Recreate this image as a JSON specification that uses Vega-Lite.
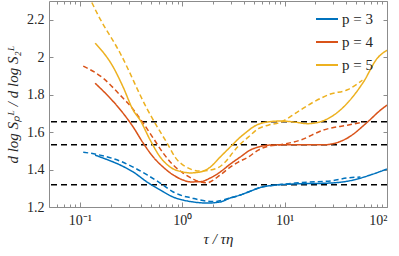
{
  "$schema": "https://vega.github.io/schema/vega-lite/v6.json",
  "width": 338,
  "height": 206,
  "autosize": "none",
  "padding": {"left": 49, "top": 1, "right": 12, "bottom": 49},
  "config": {
    "view": {"stroke": "#8c8c8c", "strokeWidth": 1},
    "font": "Liberation Serif, Times New Roman, serif",
    "axis": {"grid": false, "domain": false, "tickColor": "#8c8c8c", "labelColor": "#262626", "titleColor": "#262626", "labelFont": "Liberation Serif, Times New Roman, serif", "titleFont": "Liberation Serif, Times New Roman, serif", "labelFontSize": 14, "titleFontWeight": "normal"},
    "legend": {"labelFont": "Liberation Serif, Times New Roman, serif"}
  },
  "datasets": {
    "curves": [
      {"p": "p = 3", "k": "solid", "t": 0.141, "v": 1.477},
      {"p": "p = 3", "k": "solid", "t": 0.158, "v": 1.467},
      {"p": "p = 3", "k": "solid", "t": 0.248, "v": 1.424},
      {"p": "p = 3", "k": "solid", "t": 0.332, "v": 1.387},
      {"p": "p = 3", "k": "solid", "t": 0.455, "v": 1.333},
      {"p": "p = 3", "k": "solid", "t": 0.609, "v": 1.291},
      {"p": "p = 3", "k": "solid", "t": 0.817, "v": 1.253},
      {"p": "p = 3", "k": "solid", "t": 1.02, "v": 1.237},
      {"p": "p = 3", "k": "solid", "t": 1.28, "v": 1.227},
      {"p": "p = 3", "k": "solid", "t": 1.75, "v": 1.221},
      {"p": "p = 3", "k": "solid", "t": 2.35, "v": 1.227},
      {"p": "p = 3", "k": "solid", "t": 2.94, "v": 1.248},
      {"p": "p = 3", "k": "solid", "t": 3.69, "v": 1.264},
      {"p": "p = 3", "k": "solid", "t": 4.42, "v": 1.28},
      {"p": "p = 3", "k": "solid", "t": 6.05, "v": 1.307},
      {"p": "p = 3", "k": "solid", "t": 8.11, "v": 1.317},
      {"p": "p = 3", "k": "solid", "t": 12.7, "v": 1.323},
      {"p": "p = 3", "k": "solid", "t": 28.0, "v": 1.328},
      {"p": "p = 3", "k": "solid", "t": 46.9, "v": 1.344},
      {"p": "p = 3", "k": "solid", "t": 68.8, "v": 1.371},
      {"p": "p = 3", "k": "solid", "t": 100, "v": 1.403},

      {"p": "p = 3", "k": "dashed", "t": 0.108, "v": 1.493},
      {"p": "p = 3", "k": "dashed", "t": 0.158, "v": 1.477},
      {"p": "p = 3", "k": "dashed", "t": 0.248, "v": 1.445},
      {"p": "p = 3", "k": "dashed", "t": 0.332, "v": 1.413},
      {"p": "p = 3", "k": "dashed", "t": 0.455, "v": 1.371},
      {"p": "p = 3", "k": "dashed", "t": 0.609, "v": 1.328},
      {"p": "p = 3", "k": "dashed", "t": 0.817, "v": 1.28},
      {"p": "p = 3", "k": "dashed", "t": 1.02, "v": 1.259},
      {"p": "p = 3", "k": "dashed", "t": 1.2, "v": 1.25},
      {"p": "p = 3", "k": "dashed", "t": 1.5, "v": 1.237},
      {"p": "p = 3", "k": "dashed", "t": 2.01, "v": 1.229},
      {"p": "p = 3", "k": "dashed", "t": 2.94, "v": 1.248},
      {"p": "p = 3", "k": "dashed", "t": 3.69, "v": 1.264},
      {"p": "p = 3", "k": "dashed", "t": 6.05, "v": 1.307},
      {"p": "p = 3", "k": "dashed", "t": 8.11, "v": 1.317},
      {"p": "p = 3", "k": "dashed", "t": 12.7, "v": 1.328},
      {"p": "p = 3", "k": "dashed", "t": 16.7, "v": 1.333},
      {"p": "p = 3", "k": "dashed", "t": 28.0, "v": 1.339},
      {"p": "p = 3", "k": "dashed", "t": 41.0, "v": 1.355},
      {"p": "p = 3", "k": "dashed", "t": 55.0, "v": 1.36},

      {"p": "p = 4", "k": "solid", "t": 0.141, "v": 1.861},
      {"p": "p = 4", "k": "solid", "t": 0.198, "v": 1.781},
      {"p": "p = 4", "k": "solid", "t": 0.237, "v": 1.733},
      {"p": "p = 4", "k": "solid", "t": 0.332, "v": 1.627},
      {"p": "p = 4", "k": "solid", "t": 0.416, "v": 1.541},
      {"p": "p = 4", "k": "solid", "t": 0.521, "v": 1.467},
      {"p": "p = 4", "k": "solid", "t": 0.652, "v": 1.413},
      {"p": "p = 4", "k": "solid", "t": 0.817, "v": 1.371},
      {"p": "p = 4", "k": "solid", "t": 1.02, "v": 1.344},
      {"p": "p = 4", "k": "solid", "t": 1.2, "v": 1.334},
      {"p": "p = 4", "k": "solid", "t": 1.5, "v": 1.335},
      {"p": "p = 4", "k": "solid", "t": 1.88, "v": 1.355},
      {"p": "p = 4", "k": "solid", "t": 2.35, "v": 1.387},
      {"p": "p = 4", "k": "solid", "t": 2.94, "v": 1.429},
      {"p": "p = 4", "k": "solid", "t": 3.69, "v": 1.467},
      {"p": "p = 4", "k": "solid", "t": 4.62, "v": 1.504},
      {"p": "p = 4", "k": "solid", "t": 5.79, "v": 1.523},
      {"p": "p = 4", "k": "solid", "t": 7.25, "v": 1.531},
      {"p": "p = 4", "k": "solid", "t": 12.7, "v": 1.533},
      {"p": "p = 4", "k": "solid", "t": 23.9, "v": 1.532},
      {"p": "p = 4", "k": "solid", "t": 41.0, "v": 1.568},
      {"p": "p = 4", "k": "solid", "t": 64.3, "v": 1.653},
      {"p": "p = 4", "k": "solid", "t": 86.2, "v": 1.717},
      {"p": "p = 4", "k": "solid", "t": 100, "v": 1.744},

      {"p": "p = 4", "k": "dashed", "t": 0.108, "v": 1.952},
      {"p": "p = 4", "k": "dashed", "t": 0.169, "v": 1.888},
      {"p": "p = 4", "k": "dashed", "t": 0.248, "v": 1.797},
      {"p": "p = 4", "k": "dashed", "t": 0.325, "v": 1.728},
      {"p": "p = 4", "k": "dashed", "t": 0.416, "v": 1.648},
      {"p": "p = 4", "k": "dashed", "t": 0.521, "v": 1.568},
      {"p": "p = 4", "k": "dashed", "t": 0.652, "v": 1.488},
      {"p": "p = 4", "k": "dashed", "t": 0.817, "v": 1.424},
      {"p": "p = 4", "k": "dashed", "t": 1.02, "v": 1.381},
      {"p": "p = 4", "k": "dashed", "t": 1.28, "v": 1.349},
      {"p": "p = 4", "k": "dashed", "t": 1.5, "v": 1.334},
      {"p": "p = 4", "k": "dashed", "t": 1.75, "v": 1.33},
      {"p": "p = 4", "k": "dashed", "t": 2.35, "v": 1.371},
      {"p": "p = 4", "k": "dashed", "t": 2.94, "v": 1.413},
      {"p": "p = 4", "k": "dashed", "t": 3.53, "v": 1.44},
      {"p": "p = 4", "k": "dashed", "t": 4.42, "v": 1.467},
      {"p": "p = 4", "k": "dashed", "t": 5.53, "v": 1.504},
      {"p": "p = 4", "k": "dashed", "t": 6.93, "v": 1.525},
      {"p": "p = 4", "k": "dashed", "t": 9.08, "v": 1.533},
      {"p": "p = 4", "k": "dashed", "t": 14.2, "v": 1.557},
      {"p": "p = 4", "k": "dashed", "t": 23.9, "v": 1.611},
      {"p": "p = 4", "k": "dashed", "t": 41.0, "v": 1.637},
      {"p": "p = 4", "k": "dashed", "t": 58.8, "v": 1.653},

      {"p": "p = 5", "k": "solid", "t": 0.141, "v": 2.075},
      {"p": "p = 5", "k": "solid", "t": 0.212, "v": 1.947},
      {"p": "p = 5", "k": "solid", "t": 0.265, "v": 1.84},
      {"p": "p = 5", "k": "solid", "t": 0.332, "v": 1.717},
      {"p": "p = 5", "k": "solid", "t": 0.388, "v": 1.664},
      {"p": "p = 5", "k": "solid", "t": 0.487, "v": 1.557},
      {"p": "p = 5", "k": "solid", "t": 0.609, "v": 1.467},
      {"p": "p = 5", "k": "solid", "t": 0.764, "v": 1.413},
      {"p": "p = 5", "k": "solid", "t": 1.02, "v": 1.387},
      {"p": "p = 5", "k": "solid", "t": 1.2, "v": 1.382},
      {"p": "p = 5", "k": "solid", "t": 1.5, "v": 1.387},
      {"p": "p = 5", "k": "solid", "t": 1.88, "v": 1.413},
      {"p": "p = 5", "k": "solid", "t": 2.35, "v": 1.467},
      {"p": "p = 5", "k": "solid", "t": 2.94, "v": 1.52},
      {"p": "p = 5", "k": "solid", "t": 3.69, "v": 1.573},
      {"p": "p = 5", "k": "solid", "t": 4.13, "v": 1.595},
      {"p": "p = 5", "k": "solid", "t": 5.17, "v": 1.634},
      {"p": "p = 5", "k": "solid", "t": 6.48, "v": 1.652},
      {"p": "p = 5", "k": "solid", "t": 9.08, "v": 1.659},
      {"p": "p = 5", "k": "solid", "t": 12.7, "v": 1.653},
      {"p": "p = 5", "k": "solid", "t": 16.7, "v": 1.645},
      {"p": "p = 5", "k": "solid", "t": 22.3, "v": 1.655},
      {"p": "p = 5", "k": "solid", "t": 41.0, "v": 1.755},
      {"p": "p = 5", "k": "solid", "t": 58.8, "v": 1.867},
      {"p": "p = 5", "k": "solid", "t": 80.6, "v": 1.995},
      {"p": "p = 5", "k": "solid", "t": 100, "v": 2.037},

      {"p": "p = 5", "k": "dashed", "t": 0.121, "v": 2.331},
      {"p": "p = 5", "k": "dashed", "t": 0.151, "v": 2.224},
      {"p": "p = 5", "k": "dashed", "t": 0.248, "v": 2.021},
      {"p": "p = 5", "k": "dashed", "t": 0.455, "v": 1.723},
      {"p": "p = 5", "k": "dashed", "t": 0.57, "v": 1.628},
      {"p": "p = 5", "k": "dashed", "t": 0.73, "v": 1.531},
      {"p": "p = 5", "k": "dashed", "t": 0.855, "v": 1.465},
      {"p": "p = 5", "k": "dashed", "t": 1.02, "v": 1.424},
      {"p": "p = 5", "k": "dashed", "t": 1.5, "v": 1.392},
      {"p": "p = 5", "k": "dashed", "t": 2.2, "v": 1.408},
      {"p": "p = 5", "k": "dashed", "t": 2.63, "v": 1.44},
      {"p": "p = 5", "k": "dashed", "t": 3.15, "v": 1.493},
      {"p": "p = 5", "k": "dashed", "t": 3.53, "v": 1.525},
      {"p": "p = 5", "k": "dashed", "t": 4.42, "v": 1.573},
      {"p": "p = 5", "k": "dashed", "t": 5.53, "v": 1.618},
      {"p": "p = 5", "k": "dashed", "t": 6.93, "v": 1.637},
      {"p": "p = 5", "k": "dashed", "t": 9.08, "v": 1.652},
      {"p": "p = 5", "k": "dashed", "t": 13.3, "v": 1.707},
      {"p": "p = 5", "k": "dashed", "t": 19.1, "v": 1.76},
      {"p": "p = 5", "k": "dashed", "t": 28.0, "v": 1.803},
      {"p": "p = 5", "k": "dashed", "t": 41.0, "v": 1.826},
      {"p": "p = 5", "k": "dashed", "t": 57.5, "v": 1.877}
    ],
    "hl": [{"h": 1.319}, {"h": 1.532}, {"h": 1.655}]
  },
  "layer": [
    {
      "data": {"name": "hl"},
      "mark": {"type": "rule", "color": "black", "strokeWidth": 1.5, "strokeDash": [6, 4]},
      "encoding": {
        "y": {"field": "h", "type": "quantitative", "scale": {"domain": [1.2, 2.3], "nice": false, "zero": false},
          "axis": {"orient": "right", "values": [1.2, 1.4, 1.6, 1.8, 2.0, 2.2], "labels": false, "tickSize": -4, "title": null}}
      }
    },
    {
      "data": {"name": "curves"},
      "mark": {"type": "line", "clip": true, "strokeWidth": 1.5, "interpolate": "monotone"},
      "encoding": {
        "x": {"field": "t", "type": "quantitative", "scale": {"type": "log", "domain": [0.05, 100], "nice": false},
          "axis": {"orient": "bottom", "values": [0.1, 1, 10, 100], "tickSize": -5, "labelPadding": 11,
            "labelExpr": "datum.value < 0.5 ? '10⁻¹' : datum.value < 5 ? '10⁰' : datum.value < 50 ? '10¹' : '10²'",
            "title": "τ / τη", "titleFontSize": 15, "titleFontStyle": "italic", "titlePadding": 4}},
        "y": {"field": "v", "type": "quantitative", "scale": {"domain": [1.2, 2.3], "nice": false, "zero": false},
          "axis": {"orient": "left", "values": [1.2, 1.4, 1.6, 1.8, 2.0, 2.2], "tickSize": -4, "labelPadding": 9,
            "labelExpr": "format(datum.value, '.1f') == '2.0' ? '2' : format(datum.value, '.1f')",
            "title": "d log Sₚᴸ / d log S₂ᴸ", "titleFontSize": 15, "titleFontStyle": "italic", "titlePadding": 6}},
        "color": {"field": "p", "type": "nominal",
          "scale": {"domain": ["p = 3", "p = 4", "p = 5"], "range": ["#0072BD", "#D95319", "#EDB120"]},
          "legend": {"orient": "none", "legendX": 266, "legendY": 6, "title": null, "symbolType": "stroke", "symbolSize": 484, "symbolStrokeWidth": 2, "labelFontSize": 15, "labelColor": "#262626", "rowPadding": 3, "labelOffset": 3, "padding": 0}},
        "strokeDash": {"field": "k", "type": "nominal",
          "scale": {"domain": ["solid", "dashed"], "range": [[1, 0], [5, 3]]}, "legend": null}
      }
    },
    {
      "data": {"name": "curves"},
      "mark": {"type": "point", "opacity": 0},
      "encoding": {
        "x": {"field": "t", "type": "quantitative",
          "axis": {"orient": "bottom", "values": [0.06, 0.07, 0.08, 0.09, 0.2, 0.3, 0.4, 0.5, 0.6, 0.7, 0.8, 0.9, 2, 3, 4, 5, 6, 7, 8, 9, 20, 30, 40, 50, 60, 70, 80, 90], "labels": false, "tickSize": -3, "title": null}}
      }
    },
    {
      "data": {"name": "curves"},
      "mark": {"type": "point", "opacity": 0},
      "encoding": {
        "x": {"field": "t", "type": "quantitative",
          "axis": {"orient": "top", "values": [0.1, 1, 10, 100], "labels": false, "tickSize": -5, "title": null}}
      }
    },
    {
      "data": {"name": "curves"},
      "mark": {"type": "point", "opacity": 0},
      "encoding": {
        "x": {"field": "t", "type": "quantitative",
          "axis": {"orient": "top", "values": [0.06, 0.07, 0.08, 0.09, 0.2, 0.3, 0.4, 0.5, 0.6, 0.7, 0.8, 0.9, 2, 3, 4, 5, 6, 7, 8, 9, 20, 30, 40, 50, 60, 70, 80, 90], "labels": false, "tickSize": -3, "title": null}}
      }
    }
  ],
  "resolve": {"axis": {"x": "independent", "y": "independent"}}
}
